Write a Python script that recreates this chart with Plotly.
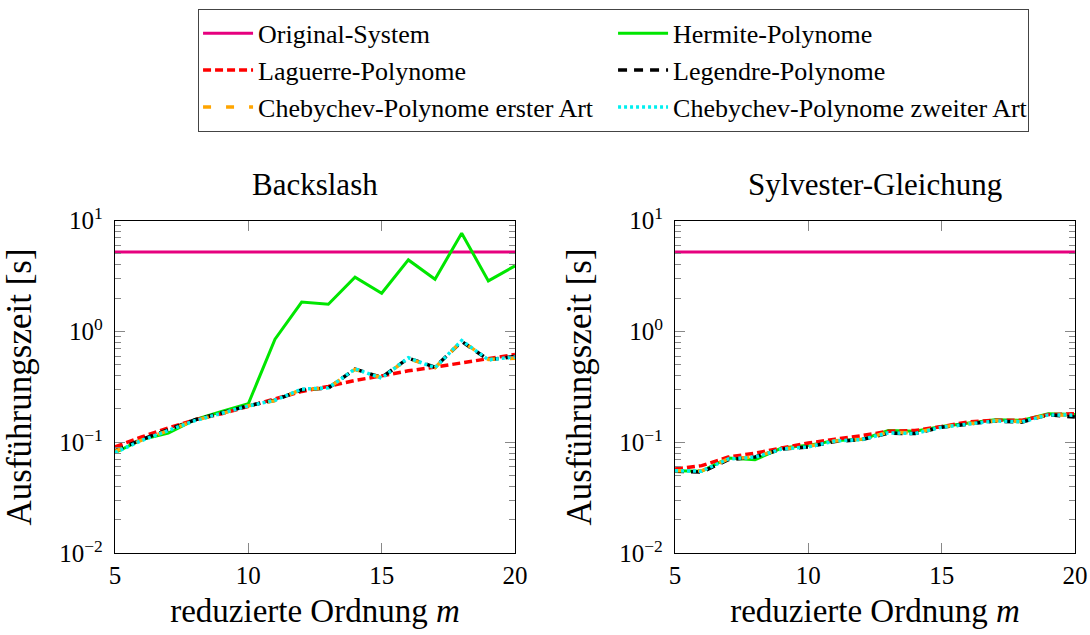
import plotly.graph_objects as go

# Reduced order m
m = [5, 6, 7, 8, 9, 10, 11, 12, 13, 14, 15, 16, 17, 18, 19, 20]

# Execution times [s] -- Backslash
original_bs = [5.2, 5.2, 5.2, 5.2, 5.2, 5.2, 5.2, 5.2, 5.2, 5.2, 5.2, 5.2, 5.2, 5.2, 5.2, 5.2]
hermite_bs = [0.081, 0.106, 0.121, 0.160, 0.190, 0.223, 0.853, 1.84, 1.76, 3.09, 2.21, 4.42, 2.96, 7.69, 2.86, 3.91]
laguerre_bs = [0.091, 0.112, 0.135, 0.160, 0.181, 0.211, 0.246, 0.288, 0.320, 0.362, 0.398, 0.442, 0.477, 0.519, 0.563, 0.621]
legendre_bs = [0.084, 0.106, 0.130, 0.160, 0.184, 0.214, 0.240, 0.298, 0.309, 0.458, 0.385, 0.575, 0.477, 0.813, 0.556, 0.595]
cheb1_bs = [0.083, 0.105, 0.128, 0.158, 0.182, 0.214, 0.238, 0.300, 0.309, 0.455, 0.383, 0.570, 0.472, 0.820, 0.560, 0.575]
cheb2_bs = [0.081, 0.104, 0.128, 0.157, 0.183, 0.213, 0.240, 0.302, 0.310, 0.460, 0.380, 0.580, 0.470, 0.830, 0.555, 0.590]

# Execution times [s] -- Sylvester equation
original_sy = [5.2, 5.2, 5.2, 5.2, 5.2, 5.2, 5.2, 5.2, 5.2, 5.2, 5.2, 5.2, 5.2, 5.2, 5.2, 5.2]
hermite_sy = [0.0556, 0.055, 0.0723, 0.0698, 0.0889, 0.094, 0.104, 0.106, 0.128, 0.126, 0.139, 0.149, 0.160, 0.158, 0.181, 0.178]
laguerre_sy = [0.0575, 0.0617, 0.0738, 0.080, 0.0889, 0.0986, 0.107, 0.115, 0.126, 0.128, 0.139, 0.153, 0.158, 0.158, 0.178, 0.181]
legendre_sy = [0.055, 0.054, 0.0698, 0.0738, 0.087, 0.091, 0.102, 0.106, 0.121, 0.120, 0.137, 0.147, 0.156, 0.152, 0.178, 0.169]
cheb1_sy = [0.0555, 0.0555, 0.071, 0.074, 0.0875, 0.092, 0.103, 0.107, 0.123, 0.122, 0.138, 0.148, 0.157, 0.154, 0.178, 0.174]
cheb2_sy = [0.0555, 0.055, 0.071, 0.0735, 0.087, 0.091, 0.103, 0.106, 0.122, 0.120, 0.137, 0.147, 0.156, 0.153, 0.177, 0.176]

names = ["Original-System", "Hermite-Polynome", "Laguerre-Polynome",
         "Legendre-Polynome", "Chebychev-Polynome erster Art",
         "Chebychev-Polynome zweiter Art"]
panel_titles = ["Backslash", "Sylvester-Gleichung"]
x_ticks = [5, 10, 15, 20]
y_tickvals = [0.01, 0.1, 1, 10]
y_ticktext = ["10<sup>−2</sup>", "10<sup>−1</sup>", "10<sup>0</sup>", "10<sup>1</sup>"]
y_minor = [k * 10.0 ** e for e in (-2, -1, 0) for k in range(2, 10)]

styles = [
    dict(color="#E6007E", width=3, dash="solid"),
    dict(color="#00E600", width=3, dash="solid"),
    dict(color="#FF0000", width=3.5, dash="8px,4px"),
    dict(color="#000000", width=3.5, dash="9px,7px"),
    dict(color="#FFA500", width=3.5, dash="8px,15px"),
    dict(color="#00F0F0", width=3.5, dash="3px,3px"),
]

FONT = "Liberation Serif"
fig = go.Figure()

panels = [
    ("x", "y", [original_bs, hermite_bs, laguerre_bs, legendre_bs, cheb1_bs, cheb2_bs]),
    ("x2", "y2", [original_sy, hermite_sy, laguerre_sy, legendre_sy, cheb1_sy, cheb2_sy]),
]
for p, (xa, ya, series) in enumerate(panels):
    for name, vals, st in zip(names, series, styles):
        fig.add_trace(go.Scatter(
            x=m, y=vals, mode="lines", name=name, line=st,
            xaxis=xa, yaxis=ya, showlegend=(p == 0), legendgroup=name,
        ))

axis_common = dict(
    showline=True, linecolor="black", linewidth=1.3, mirror="allticks",
    ticks="inside", tickcolor="#888888", tickwidth=1.2, showgrid=False,
    zeroline=False, automargin=False,
    tickfont=dict(family=FONT, size=25, color="black"),
)

x_domains = [[0.1055, 0.4725], [0.6193, 0.9862]]
y_domain = [0.1287, 0.6526]

layout = dict(
    width=1090, height=635,
    margin=dict(l=0, r=0, t=0, b=0),
    paper_bgcolor="white", plot_bgcolor="white",
    font=dict(family=FONT, color="black"),
    legend=dict(
        orientation="h", x=0.1817, y=0.986, xanchor="left", yanchor="top",
        entrywidth=350, entrywidthmode="pixels",
        bordercolor="#444444", borderwidth=1, bgcolor="white",
        font=dict(family=FONT, size=26, color="black"),
        tracegroupgap=0, itemwidth=50,
    ),
    annotations=[],
)

for i, dom in enumerate(x_domains):
    sx = "" if i == 0 else str(i + 1)
    layout["xaxis" + sx] = dict(
        axis_common, domain=dom, range=[5, 20], tickvals=x_ticks, ticklen=10,
        anchor="y" + sx,
        title=dict(text="reduzierte Ordnung <i>m</i>", standoff=10,
                   font=dict(family=FONT, size=33, color="black")),
    )
    layout["yaxis" + sx] = dict(
        axis_common, domain=y_domain, type="log", range=[-2, 1],
        tickvals=y_tickvals, ticktext=y_ticktext, ticklen=10,
        ticklabelstandoff=6, anchor="x" + sx,
        minor=dict(tickmode="array", tickvals=y_minor, ticks="inside",
                   ticklen=6, tickcolor="#888888", tickwidth=1.2, showgrid=False),
        title=dict(text="Ausführungszeit [s]", standoff=16,
                   font=dict(family=FONT, size=35, color="black")),
    )
    layout["annotations"].append(dict(
        text=panel_titles[i], x=(dom[0] + dom[1]) / 2, y=0.709,
        xref="paper", yref="paper", xanchor="center", yanchor="middle",
        showarrow=False, font=dict(family=FONT, size=31, color="black"),
    ))

fig.update_layout(**layout)
fig.write_html("out.html")
